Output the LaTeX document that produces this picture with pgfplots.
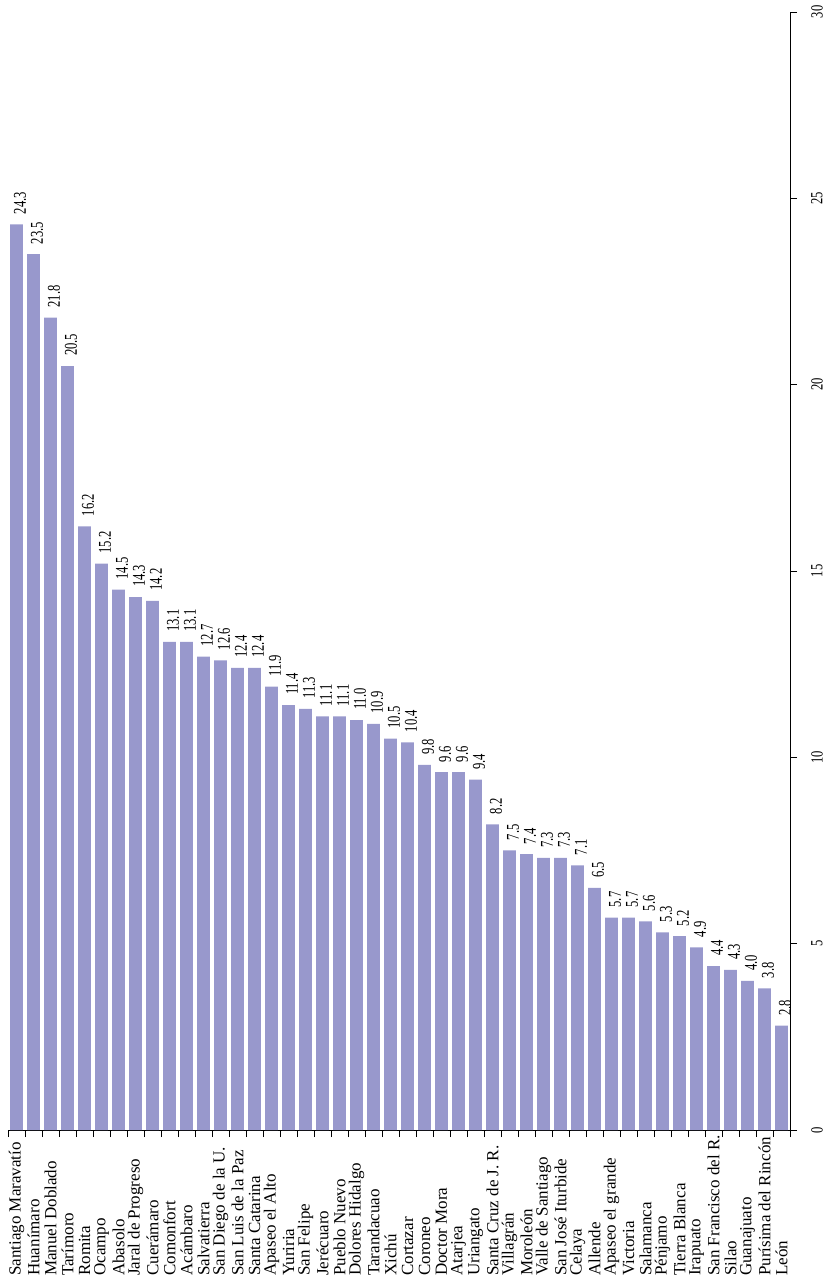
\documentclass[border=0pt]{standalone}
\usepackage{pgfplots}
\pgfplotsset{compat=1.18}
\usepackage{graphicx}
\usepackage{fontspec}
\setmainfont{Liberation Serif}
\definecolor{barc}{RGB}{152,152,204}
\begin{document}
\begin{tikzpicture}
\begin{axis}[
  name=ax,
  scale only axis, width=782pt, height=1118pt,
  xmin=-0.5, xmax=45.5, ymin=0, ymax=30,
  axis x line*=bottom, axis y line*=right,
  axis line style={black, line width=0.9pt},
  tick align=outside, major tick length=7pt,
  tick style={black, line width=0.9pt},
  xtick={-0.5,0.5,...,45.5}, xticklabels={},
  extra x ticks={0,1,...,45},
  extra x tick labels={Santiago Maravatío,Huanímaro,Manuel Doblado,Tarímoro,Romita,Ocampo,Abasolo,Jaral de Progreso,Cuerámaro,Comonfort,Acámbaro,Salvatierra,San Diego de la U.,San Luis de la Paz,Santa Catarina,Apaseo el Alto,Yuriria,San Felipe,Jerécuaro,Pueblo Nuevo,Dolores Hidalgo,Tarandacuao,Xichú,Cortazar,Coroneo,Doctor Mora,Atarjea,Uriangato,Santa Cruz de J. R.,Villagrán,Moroleón,Valle de Santiago,San José Iturbide,Celaya,Allende,Apaseo el grande,Victoria,Salamanca,Pénjamo,Tierra Blanca,Irapuato,San Francisco del R.,Silao,Guanajuato,Purísima del Rincón,León},
  extra x tick style={major tick length=0pt, xticklabel style={yshift=-146pt, rotate=90, anchor=west, inner sep=0pt, font=\fontsize{17}{17}\selectfont}},
  ytick={0,5,...,30},
  yticklabel style={xshift=14pt, rotate=90, anchor=north, inner sep=0pt},
  /pgf/number format/assume math mode=true,
  yticklabel={\fontsize{17}{17}\selectfont\scalebox{0.74}[1]{\pgfmathprintnumber{\tick}}},
  ybar, bar width=12.8pt,
  nodes near coords={\scalebox{0.7}[1]{\pgfmathprintnumber[fixed,fixed zerofill,precision=1]{\pgfplotspointmeta}}},
  every node near coord/.append style={xshift=3.5pt, yshift=10pt, rotate=90, anchor=west, inner sep=0pt, font=\fontsize{18}{18}\selectfont, black},
]
\addplot[fill=barc, draw=none] coordinates {
(0,24.3) (1,23.5) (2,21.8) (3,20.5) (4,16.2) (5,15.2) (6,14.5) (7,14.3) (8,14.2) (9,13.1)
(10,13.1) (11,12.7) (12,12.6) (13,12.4) (14,12.4) (15,11.9) (16,11.4) (17,11.3) (18,11.1) (19,11.1)
(20,11.0) (21,10.9) (22,10.5) (23,10.4) (24,9.8) (25,9.6) (26,9.6) (27,9.4) (28,8.2) (29,7.5)
(30,7.4) (31,7.3) (32,7.3) (33,7.1) (34,6.5) (35,5.7) (36,5.7) (37,5.6) (38,5.3) (39,5.2)
(40,4.9) (41,4.4) (42,4.3) (43,4.0) (44,3.8) (45,2.8)
};
\end{axis}
\pgfresetboundingbox
\path ([xshift=-8pt,yshift=-156pt]ax.south west) rectangle ([xshift=39pt,yshift=12pt]ax.north east);
\end{tikzpicture}
\end{document}
